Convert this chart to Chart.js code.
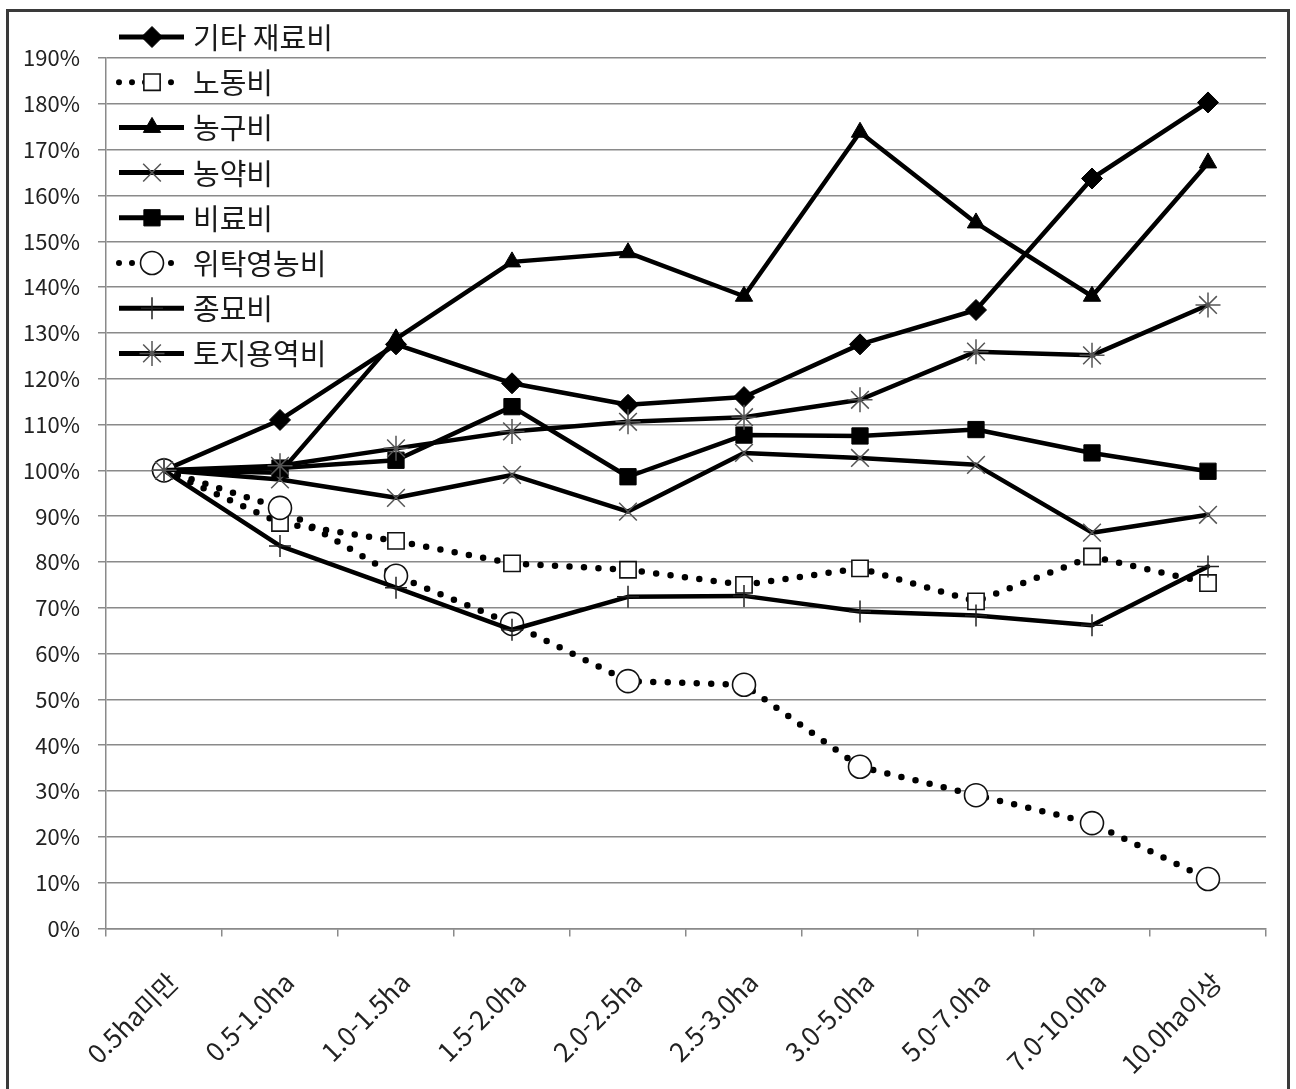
<!DOCTYPE html>
<html lang="ko">
<head>
<meta charset="utf-8">
<title>경영규모별 비목 지수</title>
<script src="https://cdn.jsdelivr.net/npm/chart.js@4/dist/chart.umd.min.js"></script>
<style>
  html, body { margin: 0; padding: 0; background: #fff; }
  #wrap { position: relative; width: 1296px; height: 1089px; overflow: hidden; }
  #frame { position: absolute; left: 6px; top: 9px; width: 1284px; height: 1100px;
           border: 3px solid #3a3a3a; box-sizing: border-box; pointer-events: none; }
  canvas { position: absolute; left: 0; top: 0; }
</style>
</head>
<body>
<div id="wrap">
  <canvas id="c" width="1296" height="1089"></canvas>
  <div id="frame"></div>
</div>
<script>
// 경영규모 구간 (0.5ha미만 = 100%)
const categories = ['0.5ha미만', '0.5-1.0ha', '1.0-1.5ha', '1.5-2.0ha', '2.0-2.5ha',
                    '2.5-3.0ha', '3.0-5.0ha', '5.0-7.0ha', '7.0-10.0ha', '10.0ha이상'];

// 비목별 지수 (%)
const otherMaterials = [100, 111, 127.5, 119, 114.3, 116, 127.5, 135, 163.7, 180.3]; // 기타 재료비
const laborCost      = [100, 88.5, 84.6, 79.7, 78.3, 75, 78.6, 71.4, 81.2, 75.4];     // 노동비
const toolCost       = [100, 99.5, 128.7, 145.5, 147.5, 138, 173.8, 154, 138, 167.1];  // 농구비
const pesticideCost  = [100, 98, 94, 99, 91, 103.8, 102.7, 101.2, 86.4, 90.3];         // 농약비
const fertilizerCost = [100, 100.5, 102.2, 113.9, 98.6, 107.7, 107.5, 108.9, 103.8, 99.8]; // 비료비
const contractCost   = [100, 91.8, 77, 66.5, 54, 53.2, 35.3, 29.1, 23, 10.8];           // 위탁영농비
const seedCost       = [100, 83.5, 74.4, 65.2, 72.4, 72.6, 69.2, 68.3, 66.2, 79];       // 종묘비
const landCost       = [100, 101, 104.8, 108.5, 110.6, 111.6, 115.4, 125.9, 125.1, 136.1]; // 토지용역비

const seriesNames = ['기타 재료비', '노동비', '농구비', '농약비', '비료비', '위탁영농비', '종묘비', '토지용역비'];

// y축 눈금 범위 (%)
const yMin = 0, yMax = 190, yStep = 10;

const FONT = '"Noto Sans CJK KR", "Noto Sans", sans-serif';

function solidSeries(label, data, style, radius, fill, border, bw) {
  return {
    label, data,
    borderColor: '#000', borderWidth: 4.5, borderCapStyle: 'round', borderJoinStyle: 'round',
    pointStyle: style, pointRadius: radius, pointHoverRadius: radius,
    pointBackgroundColor: fill, pointBorderColor: border, pointBorderWidth: bw,
    tension: 0, fill: false
  };
}
function dottedSeries(label, data, style, radius) {
  return {
    label, data,
    borderColor: '#000', borderWidth: 6.5, borderCapStyle: 'round', borderDash: [0, 14.5],
    pointStyle: style, pointRadius: radius, pointHoverRadius: radius,
    pointBackgroundColor: '#fff', pointBorderColor: '#111', pointBorderWidth: 1.6,
    tension: 0, fill: false
  };
}

const datasets = [
  solidSeries(seriesNames[0], otherMaterials, 'rectRot', 10.5, '#000', '#000', 1),
  dottedSeries(seriesNames[1], laborCost, 'rect', 11.5),
  solidSeries(seriesNames[2], toolCost, 'triangle', 10, '#000', '#000', 1),
  solidSeries(seriesNames[3], pesticideCost, 'crossRot', 12.5, '#000', '#555', 1.5),
  solidSeries(seriesNames[4], fertilizerCost, 'rect', 11.5, '#000', '#000', 1),
  dottedSeries(seriesNames[5], contractCost, 'circle', 11.5),
  solidSeries(seriesNames[6], seedCost, 'cross', 11, '#000', '#222', 1.5),
  solidSeries(seriesNames[7], landCost, 'star', 12.5, '#000', '#555', 1.5)
];
// later series are drawn on top
datasets.forEach((d, i) => { d.order = -i; });

// 그림 영역 안쪽 좌상단 범례
const insideLegend = {
  id: 'insideLegend',
  afterDatasetsDraw(chart) {
    const ctx = chart.ctx;
    const top = 37, step = 45.2;
    const x0 = 119, x1 = 184, xm = 152, xt = 193;
    chart.data.datasets.forEach((ds, i) => {
      const y = top + i * step;
      ctx.save();
      ctx.strokeStyle = ds.borderColor;
      ctx.lineWidth = ds.borderDash ? 6 : 5;
      ctx.lineCap = ds.borderDash ? 'round' : 'butt';
      ctx.setLineDash(ds.borderDash ? [0, 13] : []);
      ctx.beginPath();
      ctx.moveTo(x0, y);
      ctx.lineTo(x1, y);
      ctx.stroke();
      ctx.setLineDash([]);
      ctx.fillStyle = ds.pointBackgroundColor;
      ctx.strokeStyle = ds.pointBorderColor;
      ctx.lineWidth = ds.pointBorderWidth;
      Chart.helpers.drawPoint(ctx, {
        pointStyle: ds.pointStyle, radius: ds.pointRadius, rotation: 0,
        borderWidth: ds.pointBorderWidth
      }, xm, y);
      ctx.fillStyle = '#1a1a1a';
      ctx.font = '29px ' + FONT;
      ctx.textBaseline = 'middle';
      ctx.textAlign = 'left';
      ctx.fillText(ds.label, xt, y + 1);
      ctx.restore();
    });
  }
};

new Chart(document.getElementById('c'), {
  type: 'line',
  data: { labels: categories, datasets },
  plugins: [insideLegend],
  options: {
    responsive: false,
    animation: false,
    events: [],
    layout: { padding: { top: 58, right: 30, left: 0, bottom: 0 } },
    plugins: { legend: { display: false }, tooltip: { enabled: false } },
    scales: {
      x: {
        offset: true,
        grid: { offset: true, drawOnChartArea: false, drawTicks: true, tickLength: 8,
                color: '#8a8a8a', lineWidth: 1.5 },
        border: { display: true, color: '#8a8a8a', width: 1.5 },
        ticks: { color: '#222', font: { family: FONT, size: 26 }, minRotation: 45, maxRotation: 45,
                 padding: 30, labelOffset: 9, autoSkip: false },
        afterFit(scale) { scale.height = 160.5; }
      },
      y: {
        min: yMin, max: yMax,
        grid: { color: '#8a8a8a', lineWidth: 1.5, drawTicks: true, tickLength: 8 },
        border: { display: true, color: '#8a8a8a', width: 1.5 },
        ticks: { stepSize: yStep, color: '#222', font: { family: FONT, size: 22 }, padding: 18,
                 callback: v => v + '%' },
        afterFit(scale) { scale.width = 106; }
      }
    }
  }
});
</script>
</body>
</html>
